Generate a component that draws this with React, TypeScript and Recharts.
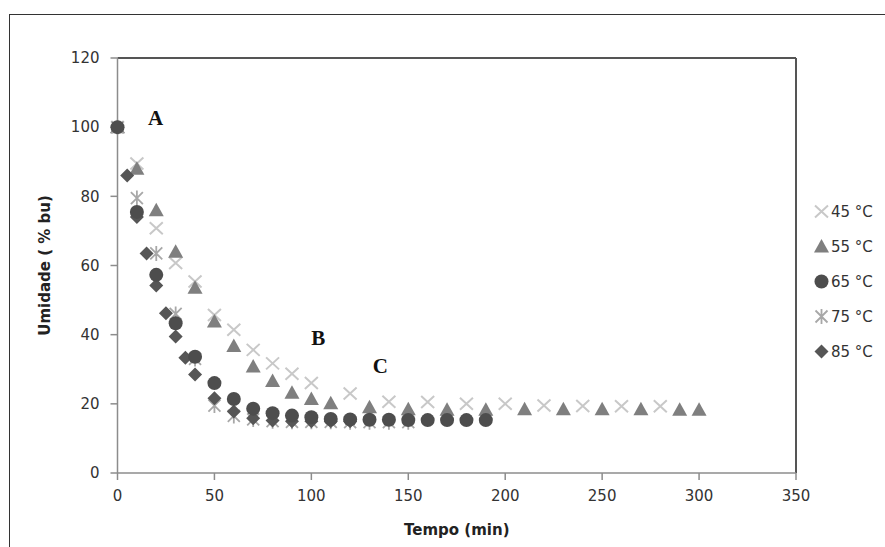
import React from "react";
import {
  ScatterChart,
  Scatter,
  XAxis,
  YAxis,
  ReferenceLine,
  ReferenceDot,
} from "recharts";

// tempo (min) and umidade (% bu) per drying temperature
const time45 = [0, 10, 20, 30, 40, 50, 60, 70, 80, 90, 100, 120, 140, 160, 180, 200, 220, 240, 260, 280];
const umid45 = [100, 89.5, 70.8, 60.7, 55.4, 45.7, 41.4, 35.6, 31.7, 28.7, 26, 23, 20.6, 20.5, 20, 20, 19.5, 19.4, 19.3, 19.3];

const time55 = [0, 10, 20, 30, 40, 50, 60, 70, 80, 90, 100, 110, 130, 150, 170, 190, 210, 230, 250, 270, 290, 300];
const umid55 = [100, 88, 76, 64, 53.6, 43.8, 36.7, 30.8, 26.6, 23.2, 21.4, 20.2, 19, 18.4, 18.3, 18.3, 18.4, 18.4, 18.4, 18.4, 18.3, 18.3];

const time65 = [0, 10, 20, 30, 40, 50, 60, 70, 80, 90, 100, 110, 120, 130, 140, 150, 160, 170, 180, 190];
const umid65 = [100, 75.5, 57.3, 43.3, 33.6, 26, 21.4, 18.6, 17.3, 16.6, 16.1, 15.6, 15.5, 15.4, 15.4, 15.3, 15.3, 15.3, 15.3, 15.3];

const time75 = [0, 10, 20, 30, 40, 50, 60, 70, 80, 90, 100, 110, 120, 130, 140, 150];
const umid75 = [100, 79.5, 63.5, 46, 33, 19.5, 16.5, 15.5, 15, 14.8, 14.8, 14.8, 14.7, 14.7, 14.7, 14.7];

const time85 = [0, 5, 10, 15, 20, 25, 30, 35, 40, 50, 60, 70, 80, 90, 100, 110, 120];
const umid85 = [100, 86, 74, 63.5, 54.2, 46.2, 39.5, 33.3, 28.5, 21.6, 17.8, 15.8, 15.2, 15, 15, 15, 15];

const xTicks = [0, 50, 100, 150, 200, 250, 300, 350];
const yTicks = [0, 20, 40, 60, 80, 100, 120];

const notes = [
  { text: "A", x: 19.6, y: 102.7 },
  { text: "B", x: 103.6, y: 39.1 },
  { text: "C", x: 135.6, y: 31.2 },
];

const zip = (xs: number[], ys: number[]) => xs.map((x, i) => ({ x, y: ys[i] }));

const TICK = { fill: "#333", fontSize: 15, fontFamily: "DejaVu Sans" };

function Cross({ cx, cy }: any) {
  return (
    <path
      d={`M${cx - 6.5},${cy - 6} L${cx + 6.5},${cy + 6} M${cx - 6.5},${cy + 6} L${cx + 6.5},${cy - 6}`}
      stroke="#c8c8c8"
      strokeWidth={2}
      fill="none"
    />
  );
}

function Triangle({ cx, cy }: any) {
  return <polygon points={`${cx},${cy - 7.5} ${cx + 7.5},${cy + 6} ${cx - 7.5},${cy + 6}`} fill="#7f7f7f" />;
}

function Dot({ cx, cy }: any) {
  return <circle cx={cx} cy={cy} r={7} fill="#4d4d4d" />;
}

function Star({ cx, cy }: any) {
  return (
    <path
      d={`M${cx - 6},${cy - 6} L${cx + 6},${cy + 6} M${cx - 6},${cy + 6} L${cx + 6},${cy - 6} M${cx},${cy - 7.5} L${cx},${cy + 7.5}`}
      stroke="#a8a8a8"
      strokeWidth={1.8}
      fill="none"
    />
  );
}

function Diamond({ cx, cy }: any) {
  return <polygon points={`${cx},${cy - 7} ${cx + 7},${cy} ${cx},${cy + 7} ${cx - 7},${cy}`} fill="#565656" />;
}

const legendItems = [
  { label: "45 °C", Shape: Cross },
  { label: "55 °C", Shape: Triangle },
  { label: "65 °C", Shape: Dot },
  { label: "75 °C", Shape: Star },
  { label: "85 °C", Shape: Diamond },
];

function YTitle({ viewBox }: any) {
  const x = viewBox.x + 50;
  const y = viewBox.y + viewBox.height / 2;
  return (
    <text
      x={x}
      y={y}
      transform={`rotate(-90, ${x}, ${y})`}
      textAnchor="middle"
      fontFamily="DejaVu Sans"
      fontWeight="bold"
      fontSize={15}
      fill="#222"
    >
      Umidade ( % bu)
    </text>
  );
}

function XTitle({ viewBox }: any) {
  return (
    <text
      x={viewBox.x + viewBox.width / 2}
      y={viewBox.y + 62}
      textAnchor="middle"
      fontFamily="DejaVu Sans"
      fontWeight="bold"
      fontSize={15}
      fill="#222"
    >
      Tempo (min)
    </text>
  );
}

export default function App() {
  return (
    <div style={{ position: "absolute", left: 0, top: 0, width: 885, height: 547, overflow: "hidden", background: "#fff" }}>
      {/* outer frame, runs off the right and bottom edges */}
      <div style={{ position: "absolute", left: 9, top: 14, width: 900, height: 560, border: "1.5px solid #333" }} />

      <div style={{ position: "absolute", left: 0, top: 0 }}>
        <ScatterChart width={885} height={547} margin={{ top: 58, right: 89, bottom: 14, left: 0 }}>
          <XAxis
            type="number"
            dataKey="x"
            domain={[0, 350]}
            ticks={xTicks}
            tick={TICK}
            tickSize={7}
            tickMargin={10}
            height={60}
            stroke="#8c8c8c"
            strokeWidth={1.5}
            label={<XTitle />}
          />
          <YAxis
            type="number"
            dataKey="y"
            domain={[0, 120]}
            ticks={yTicks}
            tick={TICK}
            tickSize={7}
            tickMargin={11}
            width={117.5}
            stroke="#8c8c8c"
            strokeWidth={1.5}
            label={<YTitle />}
          />
          <ReferenceLine y={120} stroke="#555" strokeWidth={2} />
          <ReferenceLine x={350} stroke="#555" strokeWidth={2} />

          <Scatter name="45 °C" data={zip(time45, umid45)} shape={<Cross />} isAnimationActive={false} />
          <Scatter name="55 °C" data={zip(time55, umid55)} shape={<Triangle />} isAnimationActive={false} />
          <Scatter name="75 °C" data={zip(time75, umid75)} shape={<Star />} isAnimationActive={false} />
          <Scatter name="85 °C" data={zip(time85, umid85)} shape={<Diamond />} isAnimationActive={false} />
          <Scatter name="65 °C" data={zip(time65, umid65)} shape={<Dot />} isAnimationActive={false} />

          {notes.map((n) => (
            <ReferenceDot
              key={n.text}
              x={n.x}
              y={n.y}
              r={0}
              stroke="none"
              label={{
                value: n.text,
                position: "center",
                fill: "#111",
                fontSize: 21,
                fontWeight: "bold",
                fontFamily: "Liberation Serif",
              }}
            />
          ))}
        </ScatterChart>
      </div>

      {/* legend */}
      <div style={{ position: "absolute", left: 813, top: 194, fontFamily: "DejaVu Sans", fontSize: 15, color: "#333" }}>
        {legendItems.map(({ label, Shape }) => (
          <div key={label} style={{ display: "flex", alignItems: "center", height: 35 }}>
            <svg width={17} height={17} style={{ marginRight: 1 }}>
              <Shape cx={8.5} cy={8.5} />
            </svg>
            <span>{label}</span>
          </div>
        ))}
      </div>
    </div>
  );
}
